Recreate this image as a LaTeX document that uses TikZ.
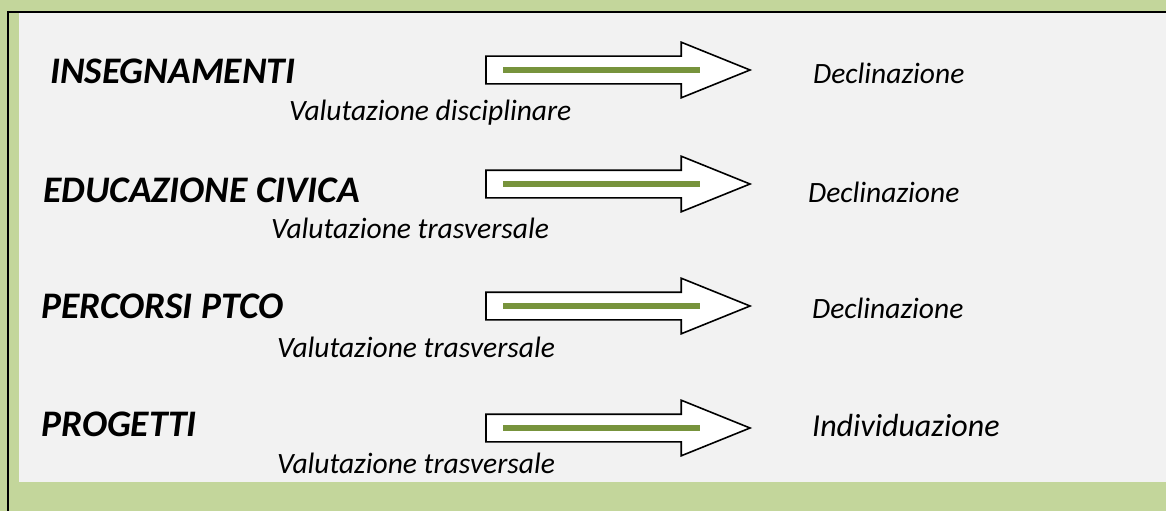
\documentclass[tikz,border=0pt]{standalone}
\usepackage{fontspec}
\setmainfont{Carlito}
\usetikzlibrary{shapes.arrows}

\definecolor{bandgreen}{HTML}{C3D69B}
\definecolor{panelgrey}{HTML}{F2F2F2}
\definecolor{bargreen}{HTML}{77933C}

\begin{document}
\begin{tikzpicture}[x=1pt, y=-1pt,
subject/.style={anchor=base west, inner sep=0pt, font=\fontsize{37.5}{40}\selectfont\bfseries\itshape},
mark_eval/.style={anchor=base west, inner sep=0pt, font=\fontsize{29.5}{32}\selectfont\itshape},
outcome/.style={anchor=base west, inner sep=0pt, font=\fontsize{29.5}{32}\selectfont\itshape},
blockarrow/.style={single arrow, draw=black, fill=white, line width=1.6pt, anchor=west,
  minimum height=264pt, inner xsep=0pt, inner ysep=13pt,
  single arrow head extend=14pt, single arrow tip angle=44, outer sep=0pt},
greenbar/.style={draw=bargreen, line width=6pt}
]
\useasboundingbox (0,0) rectangle (1166,511);
% background and frame
\fill[bandgreen] (0,0) rectangle (1166,511);
\fill[panelgrey] (19,13) rectangle (1166,482);
\draw[line width=2.5pt] (8,12) -- (1166,12);
\draw[line width=2.5pt] (8,11) -- (8,511);

% rows
\node[subject](insegn) at (50,83) {INSEGNAMENTI};
\node[mark_eval](val_insegn) at (289,120) {Valutazione disciplinare};
\node[blockarrow](arr_insegn) at (486,70) {};
\node[outcome](decl_insegn) at (813,83) {Declinazione};

\node[subject](civica) at (43,202) {EDUCAZIONE CIVICA};
\node[mark_eval](val_civica) at (271,238) {Valutazione trasversale};
\node[blockarrow](arr_civica) at (486,184) {};
\node[outcome](decl_civica) at (808,202) {Declinazione};

\node[subject](ptco) at (41,318) {PERCORSI PTCO};
\node[mark_eval](val_ptco) at (277,357) {Valutazione trasversale};
\node[blockarrow](arr_ptco) at (486,306) {};
\node[outcome](decl_ptco) at (812,318) {Declinazione};

\node[subject](progetti) at (41,436) {PROGETTI};
\node[mark_eval](val_progetti) at (277,473) {Valutazione trasversale};
\node[blockarrow](arr_progetti) at (486,428) {};
\node[outcome, font=\fontsize{32}{34}\selectfont\itshape](indiv_progetti) at (812,436) {Individuazione};

% green bars inside the arrows
\draw[greenbar] ([xshift=17pt]arr_insegn.west) -- ([xshift=214pt]arr_insegn.west);
\draw[greenbar] ([xshift=17pt]arr_civica.west) -- ([xshift=214pt]arr_civica.west);
\draw[greenbar] ([xshift=17pt]arr_ptco.west) -- ([xshift=214pt]arr_ptco.west);
\draw[greenbar] ([xshift=17pt]arr_progetti.west) -- ([xshift=214pt]arr_progetti.west);
\end{tikzpicture}
\end{document}
